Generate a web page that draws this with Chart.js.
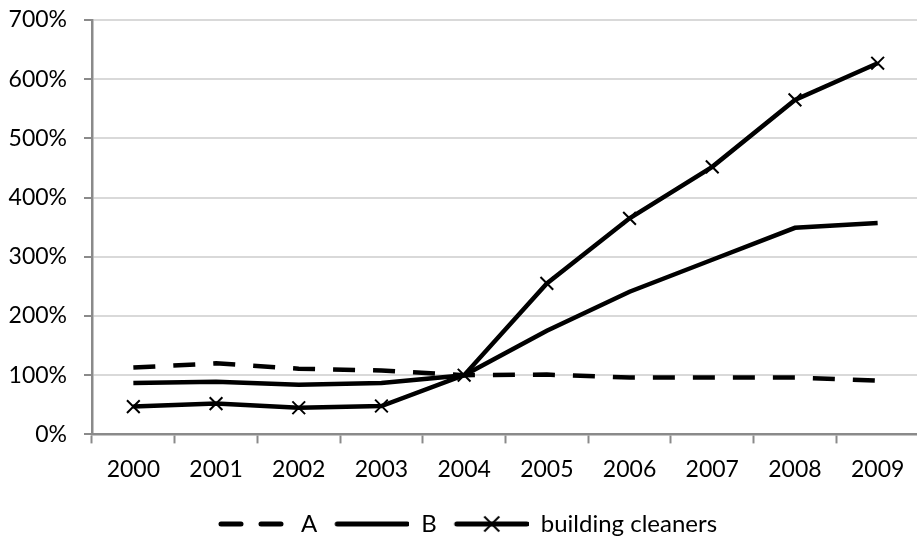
<!DOCTYPE html>
<html>
<head>
<meta charset="utf-8">
<script src="https://cdn.jsdelivr.net/npm/chart.js@4/dist/chart.umd.min.js"></script>
<style>
html,body{margin:0;padding:0;background:#fff;overflow:hidden;width:917px;height:540px;}
#wrap{width:930px;height:540px;}
</style>
</head>
<body>
<div id="wrap"><canvas id="c" width="930" height="540"></canvas></div>
<script>
const years = ['2000','2001','2002','2003','2004','2005','2006','2007','2008','2009'];
const seriesA = [113, 120, 111, 108, 100, 101, 96, 96, 96, 91];
const seriesB = [87, 89, 84, 87, 100, 175, 241, 295, 349, 357];
const seriesCleaners = [47, 52, 45, 48, 100, 255, 365, 452, 565, 627];
const seriesNames = ['A', 'B', 'building cleaners'];
const yTicks = [0, 100, 200, 300, 400, 500, 600, 700];

function legendIcon(kind) {
  const w = 84, h = 22;
  const cv = document.createElement('canvas');
  cv.width = w; cv.height = h;
  const g = cv.getContext('2d');
  g.strokeStyle = '#000';
  g.lineWidth = 5;
  g.lineCap = 'round';
  const x0 = 12, x1 = 82;
  if (kind === 'A') {
    g.setLineDash([20, 20]);
    g.beginPath(); g.moveTo(x0 + 4, h/2); g.lineTo(x1 - 2, h/2); g.stroke();
  } else {
    g.beginPath(); g.moveTo(x0, h/2); g.lineTo(x1, h/2); g.stroke();
    if (kind === 'C') {
      g.lineWidth = 2;
      g.lineCap = 'butt';
      const r = 7.5, cx = (x0 + x1) / 2;
      g.beginPath();
      g.moveTo(cx - r, h/2 - r); g.lineTo(cx + r, h/2 + r);
      g.moveTo(cx + r, h/2 - r); g.lineTo(cx - r, h/2 + r);
      g.stroke();
    }
  }
  return cv;
}
const icons = [legendIcon('A'), legendIcon('B'), legendIcon('C')];

new Chart(document.getElementById('c'), {
  type: 'line',
  data: {
    labels: years,
    datasets: [
      { label: seriesNames[0], data: seriesA, borderColor: '#000', borderWidth: 4.5, borderDash: [22, 18], pointRadius: 0, tension: 0 },
      { label: seriesNames[1], data: seriesB, borderColor: '#000', borderWidth: 4.5, pointRadius: 0, tension: 0 },
      { label: seriesNames[2], data: seriesCleaners, borderColor: '#000', borderWidth: 4.5, pointStyle: 'crossRot', pointRadius: 9, pointBorderWidth: 2, pointBorderColor: '#000', pointBackgroundColor: '#000', tension: 0 }
    ]
  },
  options: {
    responsive: false,
    animation: false,
    layout: { padding: { left: 0, right: 8, top: 20, bottom: -6 } },
    plugins: {
      tooltip: { enabled: false },
      legend: {
        position: 'bottom',
        labels: {
          usePointStyle: true,
          pointStyleWidth: 84,
          padding: 8,
          color: '#000',
          font: { family: 'Lato', size: 24 },
          generateLabels: (chart) => chart.data.datasets.map((ds, i) => ({
            text: ds.label, pointStyle: icons[i], datasetIndex: i,
            fillStyle: '#000', strokeStyle: '#000', lineWidth: 0, hidden: false, fontColor: '#000'
          }))
        }
      }
    },
    scales: {
      x: {
        offset: true,
        afterFit: (s) => { s.height += 9; },
        grid: { offset: true, drawOnChartArea: false, drawTicks: true, tickLength: 9, tickColor: '#8a8a8a', tickWidth: 2 },
        border: { color: '#8a8a8a', width: 2.5 },
        ticks: { color: '#000', font: { family: 'Lato', size: 23 }, padding: 12, maxRotation: 0 }
      },
      y: {
        min: 0, max: 700,
        afterFit: (s) => { s.width = 92; s.paddingTop = 0; },
        afterBuildTicks: (s) => { s.ticks = yTicks.map(v => ({ value: v })); },
        grid: { color: '#d9d9d9', lineWidth: 2, tickLength: 8, tickColor: '#8a8a8a', tickWidth: 2 },
        border: { color: '#8a8a8a', width: 2.5 },
        ticks: { color: '#000', font: { family: 'Lato', size: 23 }, padding: 17, callback: (v) => v + '%' }
      }
    }
  }
});
</script>
</body>
</html>
